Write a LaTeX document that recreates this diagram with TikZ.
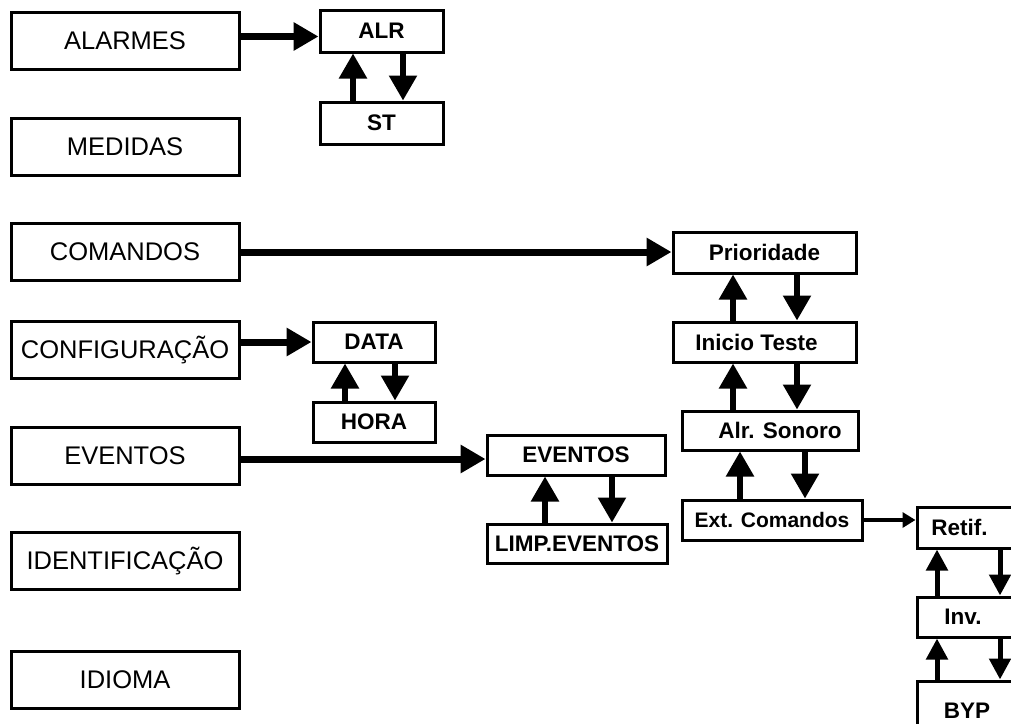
\documentclass[tikz,border=0pt]{standalone}
\usepackage{fontspec}
\setmainfont{Liberation Sans}
\usetikzlibrary{arrows.meta}
\begin{document}
\begin{tikzpicture}[x=1pt,y=-1pt,
  box/.style={draw, line width=3pt, inner sep=0pt, fill=white},
  mainbox/.style={box, minimum width=228pt, minimum height=57pt, font=\fontsize{25.5}{30}\selectfont},
  subbox/.style={box, font=\bfseries\fontsize{22.5}{26}\selectfont},
  thickarr/.style={line width=7pt, -{Triangle[length=25pt,width=27pt]}},
  varr/.style={line width=5.5pt, -{Triangle[length=25pt,width=27pt]}},
  rarr/.style={line width=5pt, -{Triangle[length=21pt,width=21pt]}},
  thinarr/.style={line width=3.5pt, -{Triangle[length=13pt,width=15pt]}}]
\useasboundingbox (0,0) rectangle (1011,723);
\clip (0,0) rectangle (1011,723);
\fill[white] (0,0) rectangle (1011,723);
% left column
\node[mainbox] (alarmes) at (125,40.5) {ALARMES};
\node[mainbox] (medidas) at (125,146.5) {MEDIDAS};
\node[mainbox] (comandos) at (125,252) {COMANDOS};
\node[mainbox] (config) at (125,350) {CONFIGURAÇÃO};
\node[mainbox] (eventos) at (125,456) {EVENTOS};
\node[mainbox] (ident) at (125,561) {IDENTIFICAÇÃO};
\node[mainbox] (idioma) at (125,679.5) {IDIOMA};
% ALR / ST
\node[subbox, minimum width=123pt, minimum height=42pt] (alr) at (381.5,31) {ALR};
\node[subbox, minimum width=123pt, minimum height=42pt] (st) at (381.5,123) {ST};
% DATA / HORA
\node[subbox, minimum width=122pt, minimum height=40pt] (data) at (374,342) {DATA};
\node[subbox, minimum width=122pt, minimum height=40pt] (hora) at (374,422) {HORA};
% EVENTOS sub
\node[subbox, minimum width=178pt, minimum height=40pt] (ev2) at (576,455) {EVENTOS};
\node[subbox, minimum width=180pt, minimum height=39pt] (limp) at (577,543.5) {LIMP.EVENTOS};
% COMANDOS sub
\node[subbox, minimum width=183pt, minimum height=41pt] (prio) at (764.5,252.5) {Prioridade};
\node[subbox, minimum width=183pt, minimum height=40pt] (inicio) at (764.5,342) {Inicio Teste\hspace*{16pt}};
\node[subbox, minimum width=176pt, minimum height=39pt] (sonoro) at (770,430.5) {\hspace*{20pt}Alr. Sonoro};
\node[subbox, minimum width=180pt, minimum height=40pt, font=\bfseries\fontsize{21}{25}\selectfont] (ext) at (772,520) {Ext. Comandos};
% right column
\node[subbox, minimum width=113pt, minimum height=41pt] (retif) at (973.5,527.5) {Retif.\hspace*{28pt}};
\node[subbox, minimum width=113pt, minimum height=40pt] (inv) at (973.5,617) {Inv.\hspace*{21pt}};
\node[subbox, minimum width=113pt, minimum height=60pt] (byp) at (973.5,711) {BYP\hspace*{13pt}};
% horizontal arrows
\draw[thickarr] ([yshift=4pt]alarmes.east) -- ([yshift=4pt]alarmes.east -| alr.west);
\draw[thickarr] (comandos.east) -- (comandos.east -| prio.west);
\draw[thickarr] (config.east |- data.west) -- (data.west);
\draw[thickarr] ([yshift=-3pt]eventos.east) -- ([yshift=-3pt]eventos.east -| ev2.west);
\draw[thinarr] (ext.east) -- (ext.east -| retif.west);
% vertical arrows
\draw[varr] (st.north -| 353,0) -- (alr.south -| 353,0);
\draw[varr] (alr.south -| 403,0) -- (st.north -| 403,0);
\draw[varr] (hora.north -| 345,0) -- (data.south -| 345,0);
\draw[varr] (data.south -| 395,0) -- (hora.north -| 395,0);
\draw[varr] (limp.north -| 545,0) -- (ev2.south -| 545,0);
\draw[varr] (ev2.south -| 612,0) -- (limp.north -| 612,0);
\draw[varr] (inicio.north -| 733,0) -- (prio.south -| 733,0);
\draw[varr] (prio.south -| 797,0) -- (inicio.north -| 797,0);
\draw[varr] (sonoro.north -| 733,0) -- (inicio.south -| 733,0);
\draw[varr] (inicio.south -| 797,0) -- (sonoro.north -| 797,0);
\draw[varr] (ext.north -| 740,0) -- (sonoro.south -| 740,0);
\draw[varr] (sonoro.south -| 805,0) -- (ext.north -| 805,0);
\draw[rarr] (inv.north -| 937,0) -- (retif.south -| 937,0);
\draw[rarr] (retif.south -| 1000,0) -- (inv.north -| 1000,0);
\draw[rarr] (byp.north -| 937,0) -- (inv.south -| 937,0);
\draw[rarr] (inv.south -| 1000,0) -- (byp.north -| 1000,0);
\end{tikzpicture}
\end{document}
